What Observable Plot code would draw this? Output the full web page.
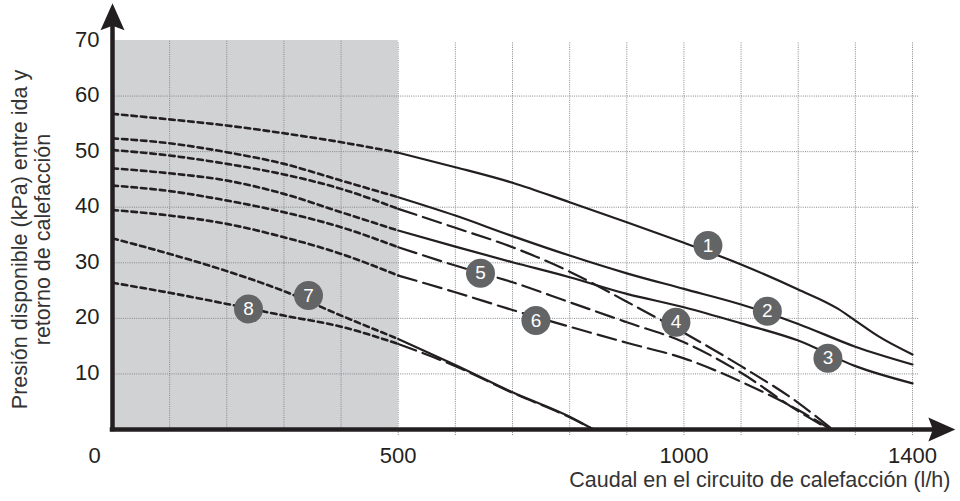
<!DOCTYPE html>
<html>
<head>
<meta charset="utf-8">
<script src="https://cdn.jsdelivr.net/npm/d3@7"></script>
<script src="https://cdn.jsdelivr.net/npm/@observablehq/plot@0.6"></script>
<style>
  html, body { margin: 0; padding: 0; background: #ffffff; }
  #chart svg { display: block; }
</style>
</head>
<body>
<div id="chart"></div>
<script>
// ---- data: [caudal l/h, presión kPa] ----
const curve1 = [[0,56.8],[100,55.8],[200,54.7],[300,53.3],[400,51.7],[500,49.8],[600,47.2],[700,44.4],[800,40.9],[900,37.3],[1000,33.6],[1100,29.7],[1200,25.2],[1270,21.7],[1300,19.6],[1340,16.8],[1400,13.5]];
const curve2 = [[0,52.4],[100,51.5],[200,49.9],[300,47.8],[400,44.8],[500,41.8],[600,38.5],[700,34.8],[800,31.3],[900,28.1],[1000,25.3],[1100,22.5],[1200,19.0],[1300,14.9],[1400,11.7]];
const curve3 = [[0,47.0],[100,46.1],[200,44.8],[300,42.4],[400,39.1],[500,35.8],[600,32.9],[700,30.1],[800,27.4],[900,24.4],[1000,22.0],[1100,19.1],[1200,16.0],[1300,11.4],[1400,8.3]];
const curve4 = [[0,50.3],[100,49.3],[200,47.8],[300,45.9],[400,43.3],[500,39.7],[600,36.3],[700,32.8],[800,28.4],[900,23.0],[1000,17.4],[1100,11.4],[1200,4.8],[1260,0]];
const curve5 = [[0,43.9],[100,42.9],[200,41.2],[300,39.1],[400,36.4],[500,32.8],[600,29.5],[700,26.5],[800,22.9],[900,19.3],[1000,15.7],[1100,10.2],[1200,3.3],[1255,0]];
const curve6 = [[0,39.5],[100,38.5],[200,37.0],[300,34.6],[400,31.6],[500,27.7],[600,24.7],[700,21.5],[800,18.5],[900,15.6],[1000,12.8],[1100,8.6],[1200,3.5],[1258,0]];
const curve7 = [[0,34.4],[100,31.6],[200,28.5],[300,24.9],[400,20.5],[500,16.3],[600,11.6],[700,6.7],[800,2.3],[842,0]];
const curve8 = [[0,26.4],[100,24.6],[200,22.6],[300,20.5],[400,18.5],[500,15.4],[600,11.4],[700,6.6],[800,2.2],[842,0]];

const curves = [curve1, curve2, curve3, curve4, curve5, curve6, curve7, curve8];
const curveKind = ["solid","solid","solid","dashed","dashed","dashed","solid","dashed"];
const shadedLimit = 500;  // caudal up to which curves are dotted (shaded zone)

const labelIds = [1, 2, 3, 4, 5, 6, 7, 8];
const labelFlow = [1042, 1146, 1252, 986, 644, 741, 343, 238];
const labelPressure = [33.1, 21.3, 12.8, 19.3, 28.1, 19.6, 24.1, 21.7];

const xTickValues = [0, 500, 1000, 1400];
const yTickValues = [10, 20, 30, 40, 50, 60, 70];
const gridFlow = [100, 200, 300, 400, 500, 600, 700, 800, 900, 1000, 1100, 1200, 1300, 1400];
const gridPressure = [10, 20, 30, 40, 50, 60];
const xDomain = [0, 1400];
const yDomain = [0, 70];
const xAxisEnd = 1475;   // arrow tip (caudal units)
const yAxisEnd = 76.7;   // arrow tip (kPa units)

const xTitle = "Caudal en el circuito de calefacción (l/h)";
const yTitle = "Presión disponible (kPa) entre ida y\nretorno de calefacción";

// ---- build tables ----
const rows = [];
curves.forEach((c, i) => {
  c.forEach(([q, p]) => {
    if (q <= shadedLimit) rows.push({id: i + 1, part: "dotted", q, p});
    if (q >= shadedLimit) rows.push({id: i + 1, part: curveKind[i], q, p});
  });
});
const labels = labelIds.map((id, i) => ({id, q: labelFlow[i], p: labelPressure[i]}));

const ink = "#231f20";
const arrowHead = {
  draw(ctx) {
    ctx.moveTo(0, 0);
    ctx.lineTo(12, 27);
    ctx.lineTo(0, 22.5);
    ctx.lineTo(-12, 27);
    ctx.closePath();
  }
};

const chart = Plot.plot({
  width: 960,
  height: 501,
  marginLeft: 112,
  marginRight: 48,
  marginTop: 40,
  marginBottom: 72,
  x: {domain: xDomain, axis: null},
  y: {domain: yDomain, axis: null},
  style: {fontFamily: "'Liberation Sans', Arial, Helvetica, sans-serif", background: "#ffffff", color: ink},
  marks: [
    // shaded zone
    Plot.rect([shadedLimit], {x1: 0, x2: d => d, y1: yDomain[0], y2: yDomain[1], fill: "#d1d2d4"}),
    // grid
    Plot.ruleX(gridFlow.filter(d => d < shadedLimit), {y1: 0, y2: 70, stroke: "#86878a", strokeWidth: 1, strokeDasharray: "1,1.2"}),
    Plot.ruleX(gridFlow.filter(d => d >= shadedLimit), {y1: -1.1, y2: 69.6, stroke: "#86878a", strokeWidth: 1, strokeDasharray: "1,1.2"}),
    Plot.ruleY(gridPressure, {x1: 0, x2: 1412, stroke: "#86878a", strokeWidth: 1, strokeDasharray: "1,1.2"}),
    // curves
    Plot.line(rows.filter(d => d.part === "dotted"), {x: "q", y: "p", z: "id", stroke: ink, strokeWidth: 2.6, strokeDasharray: "5.5,4", curve: "monotone-x"}),
    Plot.line(rows.filter(d => d.part === "solid"), {x: "q", y: "p", z: "id", stroke: ink, strokeWidth: 2.2, curve: "monotone-x"}),
    Plot.line(rows.filter(d => d.part === "dashed"), {x: "q", y: "p", z: "id", stroke: ink, strokeWidth: 2.2, strokeDasharray: "19,7", curve: "monotone-x"}),
    // axes
    Plot.ruleX([0], {y1: 0, y2: yAxisEnd - 4, stroke: ink, strokeWidth: 4.5, strokeLinecap: "square"}),
    Plot.ruleY([0], {x1: 0, x2: xAxisEnd - 40, stroke: ink, strokeWidth: 4.5, strokeLinecap: "square"}),
    Plot.dot([{q: 0, p: yAxisEnd}], {x: "q", y: "p", symbol: arrowHead, r: 10, fill: ink, stroke: "none"}),
    Plot.dot([{q: xAxisEnd, p: 0}], {x: "q", y: "p", symbol: arrowHead, r: 10, fill: ink, stroke: "none", rotate: 90}),
    // tick labels
    Plot.text(yTickValues, {x: 0, y: d => d, text: d => String(d), textAnchor: "end", lineAnchor: "middle", dx: -13, dy: -1, fontSize: 22, fill: ink}),
    Plot.text(xTickValues.filter(d => d > 0), {x: d => d, y: 0, text: d => String(d), textAnchor: "middle", lineAnchor: "middle", dy: 26, fontSize: 22, fill: ink}),
    Plot.text(xTickValues.filter(d => d === 0), {x: d => d, y: 0, text: d => String(d), textAnchor: "middle", lineAnchor: "middle", dx: -18, dy: 26, fontSize: 22, fill: ink}),
    // titles
    Plot.text([xTitle], {frameAnchor: "bottom-right", text: d => d, textAnchor: "end", lineAnchor: "middle", dx: 38, dy: 51, fontSize: 21.5, fill: "#333333"}),
    Plot.text([yTitle], {frameAnchor: "left", text: d => d, rotate: -90, textAnchor: "middle", lineAnchor: "middle", lineHeight: 1.05, dx: -81, dy: 4.5, fontSize: 21.5, fill: "#333333"}),
    // numbered markers
    Plot.dot(labels, {x: "q", y: "p", r: 14.5, fill: "#636466", stroke: "none"}),
    Plot.text(labels, {x: "q", y: "p", text: d => String(d.id), fill: "#ffffff", fontSize: 19})
  ]
});
document.getElementById("chart").appendChild(chart);
</script>
</body>
</html>
